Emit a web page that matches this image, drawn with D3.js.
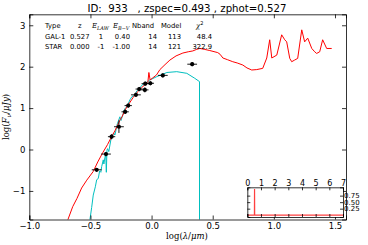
<!DOCTYPE html>
<html>
<head>
<meta charset="utf-8">
<script src="https://cdn.jsdelivr.net/npm/d3@7"></script>
<style>
  body { margin: 0; background: #fff; }
  svg { display: block; font-family: "DejaVu Sans", sans-serif; }
  .ax path, .ax line { stroke: #000; stroke-width: 0.8; }
  .ax text { font-size: 8.5px; fill: #000; font-family: "DejaVu Sans", sans-serif; }
  .ins text { font-size: 8px; }
  .insr text { font-size: 7px; }
</style>
</head>
<body>
<script>
// model spectra: [log(lambda/um), log(F_nu/uJy)]
const galaxyModel = [[-0.70,-1.75],[-0.684,-1.69],[-0.645,-1.38],[-0.61,-1.18],[-0.572,-0.93],[-0.53,-0.74],
  [-0.477,-0.53],[-0.44,-0.30],[-0.40,-0.08],[-0.36,0.12],[-0.327,0.31],[-0.30,0.45],[-0.259,0.71],[-0.24,0.80],
  [-0.218,0.95],[-0.19,1.08],[-0.15,1.26],[-0.112,1.40],[-0.08,1.50],[-0.055,1.56],[-0.03,1.64],[-0.022,1.86],
  [-0.012,1.68],[0.01,1.73],[0.04,1.80],[0.068,1.93],[0.11,2.05],[0.15,2.16],[0.20,2.26],[0.256,2.33],[0.30,2.36],
  [0.337,2.38],[0.37,2.42],[0.395,2.44],[0.43,2.42],[0.476,2.39],[0.541,2.34],[0.56,2.30],[0.583,2.21],[0.62,2.17],
  [0.664,2.12],[0.70,2.09],[0.746,2.04],[0.78,1.97],[0.819,1.92],[0.86,1.93],[0.909,1.96],[0.942,2.21],[0.966,2.65],
  [0.983,2.21],[1.024,2.28],[1.064,2.77],[1.089,2.65],[1.105,2.60],[1.13,2.20],[1.146,2.12],[1.17,2.16],[1.195,2.20],
  [1.228,2.89],[1.252,2.60],[1.277,2.69],[1.31,2.44],[1.334,2.36],[1.35,2.32],[1.375,2.36],[1.399,2.65],[1.432,2.44],
  [1.473,2.44]];

const starModel = [[-0.51,-1.75],[-0.504,-1.69],[-0.49,-1.40],[-0.477,-1.10],[-0.46,-0.90],[-0.449,-0.73],
  [-0.436,-0.70],[-0.425,-0.52],[-0.415,-0.55],[-0.408,-0.41],[-0.395,-0.25],[-0.39,-0.35],[-0.382,-0.20],
  [-0.375,-0.10],[-0.37,-0.55],[-0.365,-0.02],[-0.36,0.02],[-0.35,-0.05],[-0.333,0.23],[-0.31,0.40],[-0.30,0.35],
  [-0.28,0.62],[-0.259,0.79],[-0.25,0.70],[-0.22,0.98],[-0.20,1.04],[-0.177,1.20],[-0.16,1.28],[-0.14,1.30],
  [-0.12,1.42],[-0.096,1.49],[-0.07,1.58],[-0.05,1.60],[-0.014,1.68],[0.043,1.76],[0.125,1.86],[0.206,1.88],
  [0.288,1.84],[0.353,1.72],[0.392,1.64],[0.392,-1.8]];

// photometry: x, y, xerr, yerr
const photX = [-0.449,-0.373,-0.327,-0.267,-0.216,-0.191,-0.128,-0.101,-0.055,-0.052,-0.010,0.092,0.332];
const photY = [-0.49,-0.11,0.31,0.55,0.91,1.06,1.32,1.46,1.44,1.59,1.60,1.79,2.06];
const photXErr = [0.04,0.04,0.03,0.04,0.03,0.03,0.04,0.03,0.03,0.03,0.03,0.04,0.04];
const photYErr = [0.04,0.05,0.06,0.15,0.05,0.05,0.05,0.05,0.06,0.05,0.05,0.05,0.05];

// redshift PDF for inset
const pdfZ = [0,0.5,0.52,0.53,0.54,0.56,7];
const pdfP = [0,0,0,1.0,0,0,0];

const xTicks = [-1.0,-0.5,0.0,0.5,1.0,1.5];
const yTicks = [-1,0,1,2,3];
const insetXTicks = [0,1,2,3,4,5,6,7];
const insetYTicks = [0.25,0.5,0.75];

const tableHeader = ["Type","z","E_LAW","E_B-V","Nband","Model","χ2"];
const tableRows = [
  ["GAL-1","0.527","1","0.40","14","113","48.4"],
  ["STAR","0.000","-1","-1.00","14","121","322.9"]
];

const W = 368, H = 245;
const svg = d3.select("body").append("svg").attr("width", W).attr("height", H);

const x = d3.scaleLinear().domain([-1, 1.59]).range([29.3, 346]);
const y = d3.scaleLinear().domain([-1.69, 3.265]).range([219.5, 14.3]);

svg.append("defs").append("clipPath").attr("id", "clip")
  .append("rect").attr("x", x.range()[0]).attr("y", y.range()[1])
  .attr("width", x.range()[1] - x.range()[0]).attr("height", y.range()[0] - y.range()[1]);

const plot = svg.append("g").attr("clip-path", "url(#clip)");
const line = d3.line().x(d => x(d[0])).y(d => y(d[1]));

plot.append("path").datum(starModel).attr("d", line)
  .attr("fill", "none").attr("stroke", "#00bfbf").attr("stroke-width", 1);
plot.append("path").datum(galaxyModel).attr("d", line)
  .attr("fill", "none").attr("stroke", "#ff0000").attr("stroke-width", 1);

// error bars and points
const pts = plot.selectAll("g.pt").data(photX.map((v, i) => i)).enter().append("g");
pts.append("line")
  .attr("x1", i => x(photX[i] - photXErr[i])).attr("x2", i => x(photX[i] + photXErr[i]))
  .attr("y1", i => y(photY[i])).attr("y2", i => y(photY[i]))
  .attr("stroke", "#000").attr("stroke-width", 0.9);
pts.append("line")
  .attr("x1", i => x(photX[i])).attr("x2", i => x(photX[i]))
  .attr("y1", i => y(photY[i] - photYErr[i])).attr("y2", i => y(photY[i] + photYErr[i]))
  .attr("stroke", "#000").attr("stroke-width", 0.9);
pts.append("circle").attr("cx", i => x(photX[i])).attr("cy", i => y(photY[i]))
  .attr("r", 2.1).attr("fill", "#000");

// axes (ticks pointing inward)
svg.append("g").attr("class", "ax").attr("transform", `translate(0,${y.range()[0]})`)
  .call(d3.axisBottom(x).tickValues(xTicks).tickSize(-4).tickPadding(3).tickFormat(d3.format(".1f")))
  .call(g => g.selectAll("text").text(d => d3.format(".1f")(d).replace("-", "\u2212")));
svg.append("g").attr("class", "ax").attr("transform", `translate(0,${y.range()[1]})`)
  .call(d3.axisTop(x).tickValues(xTicks).tickSize(-4).tickFormat(""));
svg.append("g").attr("class", "ax").attr("transform", `translate(${x.range()[0]},0)`)
  .call(d3.axisLeft(y).tickValues(yTicks).tickSize(-4).tickPadding(4))
  .call(g => g.selectAll("text").text(d => String(d).replace("-", "\u2212")));
svg.append("g").attr("class", "ax").attr("transform", `translate(${x.range()[1]},0)`)
  .call(d3.axisRight(y).tickValues(yTicks).tickSize(-4).tickFormat(""));

// title
svg.append("text").attr("x", 187).attr("y", 11.5).attr("text-anchor", "middle")
  .style("font-size", "10.2px").attr("xml:space", "preserve")
  .text("ID:  933   , zspec=0.493 , zphot=0.527");

// axis labels
const xl = svg.append("text").attr("x", 187).attr("y", 239).attr("text-anchor", "middle")
  .style("font-family", "'DejaVu Serif', serif").style("font-size", "8.5px");
xl.append("tspan").text("log(");
xl.append("tspan").style("font-style", "italic").text("λ");
xl.append("tspan").text("/");
xl.append("tspan").style("font-style", "italic").text("μm");
xl.append("tspan").text(")");

const yl = svg.append("text").attr("transform", "translate(9,117) rotate(-90)").attr("text-anchor", "middle")
  .style("font-family", "'DejaVu Serif', serif").style("font-size", "8.5px");
yl.append("tspan").text("log(");
yl.append("tspan").style("font-style", "italic").text("F");
yl.append("tspan").style("font-style", "italic").style("font-size", "6px").attr("dy", 2).text("ν");
yl.append("tspan").attr("dy", -2).text("/");
yl.append("tspan").style("font-style", "italic").text("μJy");
yl.append("tspan").text(")");

// fit table
const colX = [45, 70, 101, 130, 157, 181, 212];
const colAnchor = ["start", "start", "middle", "end", "end", "end", "end"];
const hdrX = [45, 78, 92, 113, 132, 161, 196];
const tbl = svg.append("g").style("font-size", "6.8px");
tableHeader.forEach((h, i) => {
  const t = tbl.append("text").attr("x", hdrX[i]).attr("y", 28.2);
  if (h === "E_LAW" || h === "E_B-V") {
    t.append("tspan").style("font-style", "italic").style("font-family", "'DejaVu Serif', serif").text("E");
    t.append("tspan").style("font-style", "italic").style("font-family", "'DejaVu Serif', serif")
      .style("font-size", "5px").attr("dy", 1.5).text(h.slice(2).replace("-", "\u2212"));
  } else if (h === "χ2") {
    t.append("tspan").style("font-style", "italic").style("font-family", "'DejaVu Serif', serif").text("χ");
    t.append("tspan").style("font-size", "5px").attr("dy", -3).text("2");
  } else {
    t.text(h);
  }
});
tableRows.forEach((row, r) => {
  row.forEach((v, i) => {
    tbl.append("text").attr("x", colX[i]).attr("y", 38.7 + r * 10.6)
      .attr("text-anchor", colAnchor[i]).text(v);
  });
});

// inset: redshift probability
const ix = d3.scaleLinear().domain([0, 7]).range([247.3, 343]);
const iy = d3.scaleLinear().domain([-0.07, 1.07]).range([217, 187.3]);
const ins = svg.append("g");
ins.append("rect").attr("x", ix.range()[0]).attr("y", iy.range()[1])
  .attr("width", ix.range()[1] - ix.range()[0]).attr("height", iy.range()[0] - iy.range()[1])
  .attr("fill", "#fff").attr("stroke", "none");
ins.append("path").datum(pdfZ.map((z, i) => [z, pdfP[i]]))
  .attr("d", d3.line().x(d => ix(d[0])).y(d => iy(d[1])))
  .attr("fill", "none").attr("stroke", "#ff0000").attr("stroke-width", 1.2).attr("stroke-opacity", 0.75);
ins.append("g").attr("class", "ax ins").attr("transform", `translate(0,${iy.range()[1]})`)
  .call(d3.axisTop(ix).tickValues(insetXTicks).tickSize(-3).tickPadding(1.5).tickFormat(d3.format("d")));
ins.append("g").attr("class", "ax ins").attr("transform", `translate(0,${iy.range()[0]})`)
  .call(d3.axisBottom(ix).tickValues(insetXTicks).tickSize(-3).tickFormat(""));
ins.append("g").attr("class", "ax ins").attr("transform", `translate(${ix.range()[0]},0)`)
  .call(d3.axisLeft(iy).tickValues(insetYTicks).tickSize(-3).tickFormat(""));
ins.append("g").attr("class", "ax insr").attr("transform", `translate(${ix.range()[1]},0)`)
  .call(d3.axisRight(iy).tickValues(insetYTicks).tickSize(-3).tickPadding(1).tickFormat(d3.format(".2f")));
</script>
</body>
</html>
